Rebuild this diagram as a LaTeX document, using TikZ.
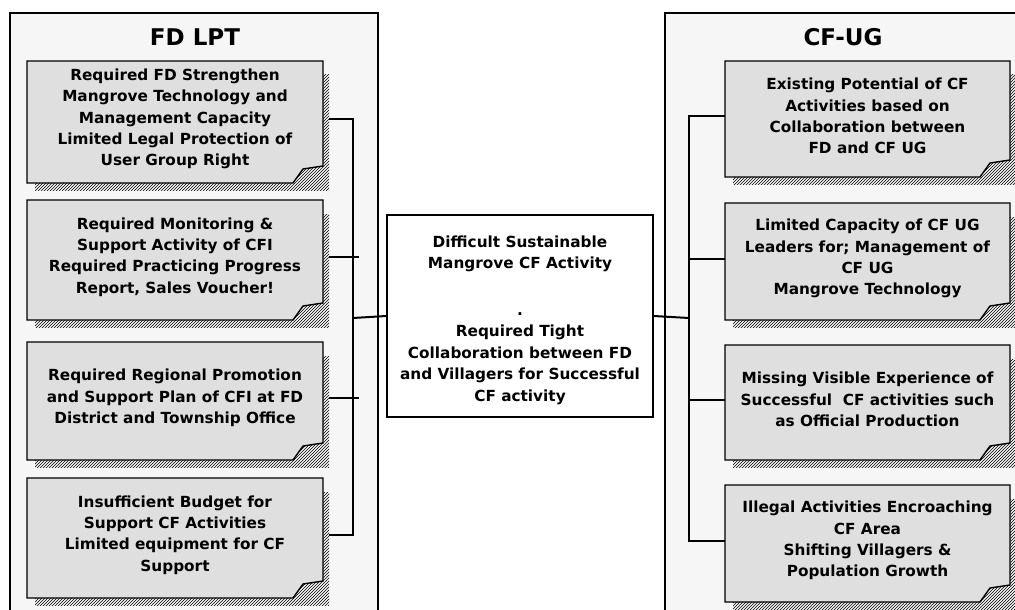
\documentclass[tikz,border=0pt]{standalone}
\usepackage{fontspec}
\setmainfont{DejaVu Sans}
\usetikzlibrary{patterns}
\tikzset{
  panel/.style={draw=black, line width=1.2pt, fill=gray!7},
  notefill/.style={draw=black, line width=1.4pt, fill=gray!25},
  shadowhatch/.style={pattern=north east lines, pattern color=black},
  notetext/.style={align=center, inner sep=0pt, font=\bfseries\fontsize{15.3}{21.3}\selectfont},
  centerbox/.style={draw=black, line width=1.2pt, fill=white, inner sep=0pt},
  centertext/.style={align=center, inner sep=0pt, font=\bfseries\fontsize{15.3}{21.5}\selectfont},
  conn/.style={draw=black, line width=2pt},
  paneltitle/.style={font=\bfseries\fontsize{23}{27}\selectfont, inner sep=0pt}
}
% name, x1, y1, x2, y2, text
\newcommand\notebox[6]{%
  \fill[shadowhatch] (#2+8,#3+14) rectangle (#4+6,#5+7);
  \filldraw[notefill] (#2,#3) -- (#4,#3) -- (#4,#5-17) -- (#4-20,#5-14) -- (#4-30,#5) -- (#2,#5) -- cycle;
  \node[notetext, minimum width={(#4-#2)*1pt}, minimum height={(#5-#3)*1pt}, yshift=3pt] (#1)
    at ({(#2+#4)/2},{(#3+#5)/2}) {#6};
}
\begin{document}
\begin{tikzpicture}[x=1pt, y=-1pt]
\useasboundingbox (0,0) rectangle (1015,610);
\clip (0,0) rectangle (1015,610);
\fill[white] (0,0) rectangle (1015,610);

% panels
\filldraw[panel] (10,13) rectangle (378,625);
\filldraw[panel] (665,13) rectangle (1030,625);
\node[paneltitle] (tL) at (195,37) {FD LPT};
\node[paneltitle] (tR) at (843,37) {CF-UG};

% left notes
\notebox{b1}{27}{61}{323}{183}{Required FD Strengthen\\Mangrove Technology and\\Management Capacity\\Limited Legal Protection of\\User Group Right}
\notebox{b2}{27}{200}{323}{320}{Required Monitoring \&\\Support Activity of CFI\\Required Practicing Progress\\Report, Sales Voucher!}
\notebox{b3}{27}{342}{323}{460}{Required Regional Promotion\\and Support Plan of CFI at FD\\District and Township Office}
\notebox{b4}{27}{478}{323}{598}{Insufficient Budget for\\Support CF Activities\\Limited equipment for CF\\Support}

% right notes
\notebox{r1}{725}{61}{1010}{177}{Existing Potential of CF\\Activities based on\\Collaboration between\\FD and CF UG}
\notebox{r2}{725}{203}{1010}{320}{Limited Capacity of CF UG\\Leaders for; Management of\\CF UG\\Mangrove Technology}
\notebox{r3}{725}{345}{1010}{460}{Missing Visible Experience of\\Successful\ \ CF activities such\\as Official Production}
\notebox{r4}{725}{485}{1010}{602}{Illegal Activities Encroaching\\CF Area\\Shifting Villagers \&\\Population Growth}

% center
\node[centerbox, minimum width=266pt, minimum height=202pt] (c) at (520,316) {};
\node[centertext] (ct) at (520,320)
  {Difficult Sustainable\\Mangrove CF Activity\\[25pt].\\Required Tight\\Collaboration between FD\\and Villagers for Successful\\CF activity};

% buses
\coordinate (busL) at (353,318);
\coordinate (busR) at (689,318);

\draw[conn] ([xshift=6pt]b1.east) -| (busL) |- ([xshift=6pt]b4.east);
\draw[conn] ([xshift=6pt]b2.east) -- ([xshift=6pt]b2.east -| busL);
\draw[conn] ([xshift=6pt]b3.east) -- ([xshift=6pt]b3.east -| busL);
\draw[conn] (busL) -- (c.west);

\draw[conn] (r1.west) -| (busR) |- (r4.west);
\draw[conn] (r2.west) -- (r2.west -| busR);
\draw[conn] (r3.west) -- (r3.west -| busR);
\draw[conn] (busR) -- (c.east);
\end{tikzpicture}
\end{document}
